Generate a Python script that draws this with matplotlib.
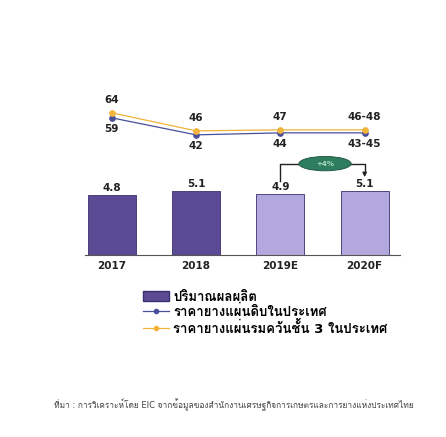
import numpy as np
import matplotlib
matplotlib.use('Agg')
import matplotlib.pyplot as plt
from matplotlib import font_manager
from matplotlib.ft2font import FT2Font
from matplotlib.patches import Ellipse, Patch
from matplotlib.lines import Line2D

years = ['2017', '2018', '2019E', '2020F']
output_mt = [4.8, 5.1, 4.9, 5.1]
rss3_price = [64, 46, 47, 47]
rss3_labels = ['64', '46', '47', '46-48']
usc_price = [59, 42, 44, 44]
usc_labels = ['59', '42', '44', '43-45']
growth_label = '+4%'
legend_labels = ['ปริมาณผลผลิต', 'ราคายางแผ่นดิบในประเทศ', 'ราคายางแผ่นรมควันชั้น 3 ในประเทศ']
source_text = 'ที่มา : การวิเคราะห์โดย EIC จากข้อมูลของสำนักงานเศรษฐกิจการเกษตรและการยางแห่งประเทศไทย'

# find an installed family that has Thai glyphs
thai_fams = []
for f in font_manager.fontManager.ttflist:
    try:
        if 0x0E01 in FT2Font(f.fname).get_charmap() and f.name not in thai_fams:
            thai_fams.append(f.name)
    except Exception:
        pass
plt.rcParams['font.family'] = ['DejaVu Sans'] + thai_fams[:2]

dark = '#5b4b95'
light = '#b3a8de'
blue = '#4a4f9a'
orange = '#f2b33a'

fig = plt.figure(figsize=(4.46, 4.37), dpi=100)
fig.patch.set_facecolor('white')
ax = fig.add_axes([0.19, 0.4165, 0.707, 0.378])
x = np.arange(len(years))
colors = [dark, dark, light, light]
ax.bar(x, output_mt, width=0.57, color=colors, edgecolor='#3a3070', linewidth=0.6)
ax.set_xlim(-0.32, 3.42)
ax.set_ylim(0, 13.2)
for xi, v in zip(x, output_mt):
    ax.text(xi, v + 0.15, f'{v}', ha='center', va='bottom', fontsize=7.5, fontweight='bold', color='#222222')
ax.set_xticks(x)
ax.set_xticklabels(years, fontsize=7.5, fontweight='bold', color='#222222')
ax.tick_params(axis='x', length=0, pad=4)
ax.set_yticks([])
for s in ['top', 'right', 'left']:
    ax.spines[s].set_visible(False)
ax.spines['bottom'].set_color('#555555')
ax.spines['bottom'].set_linewidth(0.8)
ax.patch.set_alpha(0)

ax2 = ax.twinx()
ax2.set_ylim(-78, 87)
ax2.axis('off')
ax2.plot(x, usc_price, color=blue, lw=0.9, marker='o', ms=3.8, mfc=blue, mec=blue)
ax2.plot(x, rss3_price, color=orange, lw=0.9, marker='o', ms=3.8, mfc=orange, mec=orange)
for xi, v, lab in zip(x, rss3_price, rss3_labels):
    ax2.text(xi, v + 8, lab, ha='center', va='bottom', fontsize=7.5, fontweight='bold', color='#222222')
for xi, v, lab in zip(x, usc_price, usc_labels):
    ax2.text(xi, v - 6, lab, ha='center', va='top', fontsize=7.5, fontweight='bold', color='#222222')

# growth bracket
yb = 7.3
ax.plot([2, 2, 3, 3], [output_mt[2] + 1.0, yb, yb, output_mt[3] + 1.6], color='#222222', lw=1.0)
ax.annotate('', xy=(3, output_mt[3] + 0.9), xytext=(3, output_mt[3] + 1.7),
            arrowprops=dict(arrowstyle='-|>', color='#222222', lw=1.0, mutation_scale=6))
ax.add_patch(Ellipse((2.53, yb), 0.62, 1.15, facecolor='#2f7d5f', edgecolor='#1d4f3c', lw=0.6, zorder=5))
ax.text(2.53, yb, growth_label, ha='center', va='center', fontsize=5, fontweight='bold', color='#a9dcc4', zorder=6)

handles = [Patch(facecolor=dark, edgecolor='#3a3070'),
           Line2D([0], [0], color=blue, marker='o', ms=3, lw=0.9),
           Line2D([0], [0], color=orange, marker='o', ms=3, lw=0.9)]
fig.legend(handles, legend_labels, loc='upper left', bbox_to_anchor=(0.295, 0.362), frameon=False,
           handlelength=1.9, handletextpad=0.35, labelspacing=0.1,
           prop={'weight': 'bold', 'size': 9.5})

fig.text(0.12, 0.073, source_text, fontsize=6, color='#444444', ha='left', va='center')

fig.savefig('out.png', dpi=100, facecolor='white')
